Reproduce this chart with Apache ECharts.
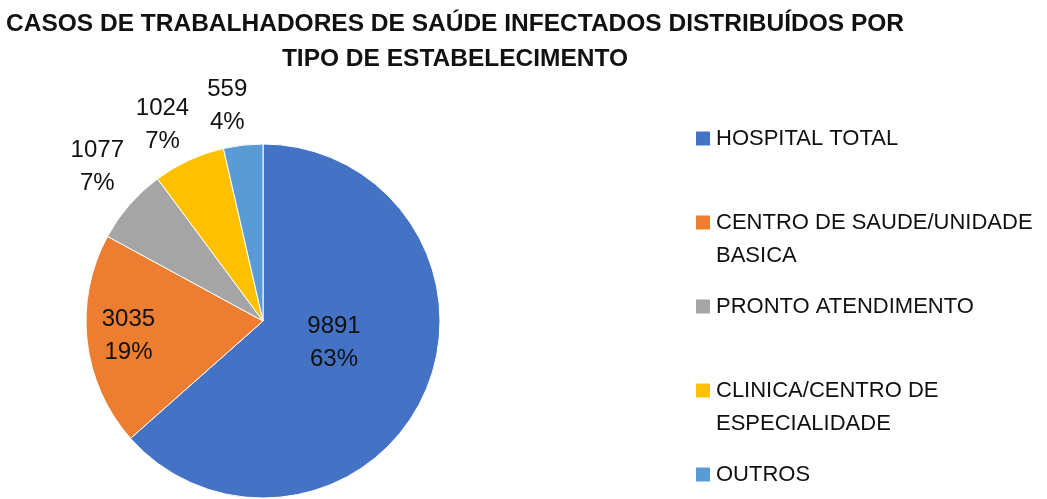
<!DOCTYPE html>
<html>
<head>
<meta charset="utf-8">
<script src="https://cdn.jsdelivr.net/npm/echarts@6/dist/echarts.min.js"></script>
<style>
  html, body { margin: 0; padding: 0; background: #fff; }
  #chart { width: 1047px; height: 499px; }
</style>
</head>
<body>
<div id="chart"></div>
<script>
const categories = ['HOSPITAL TOTAL', 'CENTRO DE SAUDE/UNIDADE BASICA', 'PRONTO ATENDIMENTO', 'CLINICA/CENTRO DE ESPECIALIDADE', 'OUTROS'];
const legendLabels = ['HOSPITAL TOTAL', 'CENTRO DE SAUDE/UNIDADE\nBASICA', 'PRONTO ATENDIMENTO', 'CLINICA/CENTRO DE\nESPECIALIDADE', 'OUTROS'];
const values = [9891, 3035, 1077, 1024, 559];
const colors = ['#4472C4', '#ED7D31', '#A5A5A5', '#FFC000', '#5B9BD5'];

// label placement: distance from centre (share of radius) and a small turn in degrees
const labelReach = [0.42, 0.765, 1.28, 1.245, 1.23];
const labelTurn = [-7, 0, 2, -2.4, -3];

const pieCenter = [263, 321];
const pieRadius = 177;

const chart = echarts.init(document.getElementById('chart'));

const option = {
  animation: false,
  title: {
    text: 'CASOS DE TRABALHADORES DE SAÚDE INFECTADOS DISTRIBUÍDOS POR\nTIPO DE ESTABELECIMENTO',
    left: 455,
    top: 7,
    padding: 0,
    textAlign: 'center',
    textStyle: {
      fontFamily: 'Liberation Sans',
      fontSize: 24.5,
      fontWeight: 'bold',
      lineHeight: 35,
      color: '#111'
    }
  },
  legend: {
    orient: 'vertical',
    left: 694,
    top: 122,
    padding: 0,
    icon: 'rect',
    itemWidth: 16,
    itemHeight: 16,
    itemGap: 18,
    selectedMode: false,
    formatter: function (name) {
      const text = legendLabels[categories.indexOf(name)];
      // an empty first line keeps the square level with the first line of text
      return text.indexOf('\n') >= 0 ? '\n' + text : text;
    },
    textStyle: {
      fontFamily: 'Liberation Sans',
      fontSize: 22,
      lineHeight: 33,
      color: '#111'
    },
    data: categories
  },
  series: [
    {
      type: 'pie',
      center: pieCenter,
      radius: pieRadius,
      startAngle: 90,
      clockwise: true,
      avoidLabelOverlap: false,
      itemStyle: {
        borderColor: '#fff',
        borderWidth: 1
      },
      label: {
        show: true,
        position: 'inside',
        fontFamily: 'Liberation Sans',
        fontSize: 24,
        lineHeight: 33,
        color: '#111',
        formatter: function (p) {
          return p.value + '\n' + Math.round(p.percent) + '%';
        }
      },
      labelLine: { show: false },
      labelLayout: function (params) {
        const r = params.labelRect;
        const dx = r.x + r.width / 2 - pieCenter[0];
        const dy = r.y + r.height / 2 - pieCenter[1];
        const a = Math.atan2(dx, -dy) + labelTurn[params.dataIndex] * Math.PI / 180;
        const d = labelReach[params.dataIndex] * pieRadius;
        return {
          x: pieCenter[0] + d * Math.sin(a),
          y: pieCenter[1] - d * Math.cos(a),
          align: 'center',
          verticalAlign: 'middle'
        };
      },
      data: categories.map(function (name, i) {
        return { name: name, value: values[i], itemStyle: { color: colors[i] } };
      })
    }
  ]
};

chart.setOption(option);
</script>
</body>
</html>
